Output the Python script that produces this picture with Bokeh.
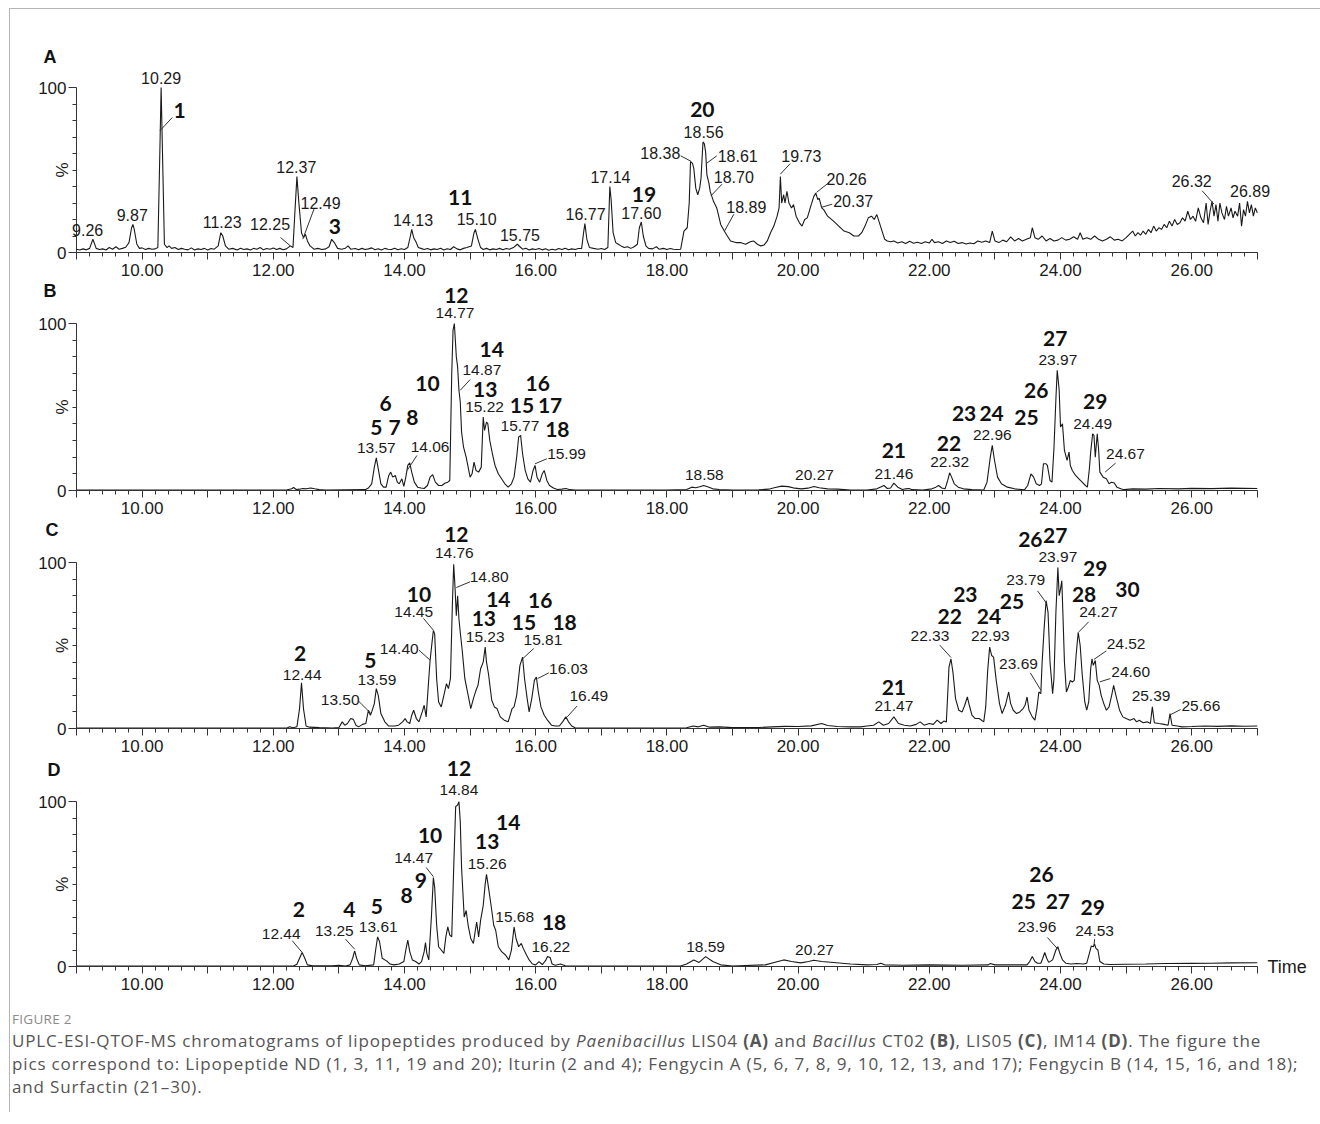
from bokeh.plotting import figure
from bokeh.models import ColumnDataSource, LabelSet, Label, FixedTicker, Range1d, Div
from bokeh.layouts import column
from bokeh.core.properties import value
from bokeh.embed import file_html
from bokeh.resources import INLINE

# ---------------- data: (retention time [min], relative intensity [%]) ----------------
trace_A = [(9.00,2),(9.05,1.5),(9.10,2.2),(9.15,1.6),(9.20,2.5),(9.25,8),(9.30,2.5),(9.35,1.8),(9.40,2.2),(9.45,1.5),
(9.50,3),(9.55,2),(9.60,3.5),(9.65,2),(9.70,2.5),(9.75,3.2),(9.80,6),(9.84,15),(9.86,17),(9.88,14),(9.92,5),(9.96,2.5),
(10.00,2.8),(10.05,1.8),(10.10,2.5),(10.15,2),(10.20,2.2),(10.24,3),(10.27,60),(10.29,100),(10.31,62),(10.34,5),(10.38,3),
(10.41,4),(10.45,2.5),(10.50,3),(10.55,1.8),(10.60,2.5),(10.65,2),(10.70,1.6),(10.75,2.8),(10.80,1.5),(10.85,2.2),(10.90,1.8),
(10.95,2.5),(11.00,1.5),(11.05,2.4),(11.10,2),(11.16,4),(11.20,12),(11.23,10),(11.27,4),(11.32,2),(11.38,2.5),(11.45,1.5),
(11.50,2.6),(11.55,1.8),(11.60,2.2),(11.65,1.5),(11.70,2.5),(11.75,2),(11.80,3),(11.85,1.6),(11.90,2.4),(11.95,2),(12.00,2.7),
(12.05,1.8),(12.10,2.5),(12.15,1.7),(12.20,2.2),(12.26,4),(12.30,3),(12.33,25),(12.36,46),(12.39,30),(12.43,12),(12.46,9),
(12.49,11),(12.52,7),(12.56,4),(12.62,2),(12.68,2.5),(12.74,1.8),(12.80,2.2),(12.85,3.5),(12.89,8),(12.93,6),(12.98,2.5),
(13.04,2),(13.10,2.6),(13.14,4),(13.18,2),(13.25,2.4),(13.30,1.6),(13.35,2.5),(13.40,1.8),(13.45,2.2),(13.50,2.8),(13.55,1.7),
(13.60,2.3),(13.65,1.5),(13.70,2.5),(13.75,2),(13.80,1.8),(13.85,2.6),(13.90,1.7),(13.95,2.3),(14.00,1.8),(14.05,3),(14.09,10),
(14.11,14),(14.14,9),(14.18,6),(14.21,3),(14.25,2.5),(14.30,1.8),(14.35,2.4),(14.40,1.6),(14.45,2.2),(14.50,1.8),(14.55,2.6),
(14.60,1.5),(14.65,2.3),(14.70,1.8),(14.75,3.5),(14.80,2.2),(14.85,1.6),(14.90,2.5),(14.95,3),(15.02,4),(15.06,12),(15.08,14),
(15.12,8),(15.16,3),(15.20,1.8),(15.25,2.5),(15.30,1.6),(15.35,2.2),(15.40,1.8),(15.45,2.5),(15.50,1.7),(15.55,2.4),(15.60,2),
(15.66,3),(15.72,5),(15.76,3.5),(15.80,2),(15.85,2.6),(15.90,1.5),(15.95,2.2),(16.00,1.8),(16.05,2.4),(16.10,1.6),(16.15,2.3),
(16.20,1.4),(16.25,2),(16.30,1.5),(16.35,2.4),(16.40,1.8),(16.45,2.6),(16.50,1.7),(16.55,2.2),(16.60,1.8),(16.65,2.4),(16.70,2.5),
(16.73,12),(16.75,17.5),(16.78,8),(16.82,3),(16.88,2.5),(16.95,2),(17.00,2.4),(17.05,1.8),(17.10,3),(17.13,40),(17.15,32),
(17.18,12),(17.22,6),(17.26,5),(17.30,4),(17.35,3),(17.40,3.5),(17.45,2.5),(17.50,3.5),(17.55,5),(17.58,15),(17.61,18.5),
(17.64,10),(17.68,4),(17.72,2.5),(17.78,2.2),(17.84,3.5),(17.88,2),(17.95,2.5),(18.00,1.8),(18.05,2.4),(18.10,2),(18.15,1.8),
(18.21,2),(18.26,13),(18.31,15),(18.34,30),(18.36,55),(18.39,54),(18.41,51),(18.44,39),(18.47,35),(18.50,39),(18.52,45),
(18.55,67),(18.57,66),(18.59,61),(18.61,47),(18.64,42),(18.66,37),(18.71,31),(18.76,27),(18.82,17),(18.89,12),(18.97,7),
(19.05,6),(19.12,6),(19.20,5),(19.27,6.5),(19.32,7),(19.38,5),(19.43,4),(19.48,4.5),(19.53,7),(19.58,12),(19.63,16),(19.68,22),
(19.71,27),(19.73,46),(19.75,30),(19.78,35),(19.80,30),(19.83,37),(19.86,30),(19.90,27),(19.93,29),(19.97,22),(20.02,18),
(20.06,16),(20.10,20),(20.14,21),(20.20,29),(20.24,34),(20.27,36),(20.30,32),(20.32,33),(20.36,27),(20.39,26),(20.45,22),
(20.54,19),(20.62,16),(20.70,13),(20.78,12),(20.85,10),(20.92,10),(20.97,12),(21.02,16),(21.07,21),(21.12,22),(21.16,20),
(21.20,23),(21.24,18),(21.28,13),(21.32,8),(21.36,7),(21.41,6.5),(21.46,7),(21.52,5.8),(21.58,6.5),(21.64,5.5),(21.70,6.8),
(21.76,5.6),(21.82,6.2),(21.88,5.4),(21.94,6.5),(22.00,5.7),(22.04,8),(22.08,6),(22.14,6.5),(22.20,5.5),(22.26,7),(22.32,6),
(22.38,6.8),(22.44,5.4),(22.50,6),(22.56,5.2),(22.62,5.8),(22.68,5.3),(22.74,7),(22.80,6.2),(22.86,7),(22.92,6),(22.96,13),
(23.00,7),(23.06,6),(23.12,7.5),(23.18,6.5),(23.24,9.5),(23.30,7),(23.36,8.5),(23.42,7),(23.48,8),(23.54,9),(23.57,15),(23.61,9),
(23.66,8),(23.72,10),(23.78,7),(23.84,8.5),(23.90,7),(23.96,7.5),(24.02,9),(24.08,7.5),(24.14,8),(24.20,9.5),(24.26,8),(24.30,12),
(24.34,8),(24.40,9),(24.46,8),(24.52,10),(24.58,8),(24.64,7),(24.70,8),(24.76,9.5),(24.82,7.5),(24.88,8),(24.94,7),(25.00,9),
(25.05,11),(25.10,13),(25.14,10),(25.18,12),(25.22,10.5),(25.26,13),(25.30,11),(25.34,14),(25.38,12),(25.42,16),(25.46,13),
(25.50,15),(25.54,14),(25.58,17),(25.62,15),(25.66,19),(25.70,16),(25.74,20),(25.78,17),(25.82,18),(25.86,21),(25.90,19),
(25.94,25),(25.98,20),(26.02,22),(26.06,19),(26.10,27),(26.14,21),(26.18,18),(26.22,30),(26.25,17),(26.28,25),(26.31,31),
(26.34,22),(26.37,29),(26.40,19),(26.43,30),(26.46,24),(26.50,20),(26.53,28),(26.56,22),(26.60,27),(26.63,21),(26.66,25),
(26.70,22),(26.73,30),(26.76,16),(26.79,26),(26.82,22),(26.85,31),(26.88,24),(26.91,29),(26.94,22),(26.97,27),(27.00,24)]

trace_B = [(9.00,0.3),(12.20,0.3),(12.28,1),(12.31,1.8),(12.35,0.6),(12.40,0.8),(12.45,1.2),(12.50,1.0),(12.57,1.5),
(12.63,1.0),(12.70,0.5),(12.80,0.3),(13.40,0.5),(13.45,1.5),(13.50,4),(13.54,14),(13.57,19.5),(13.60,13),(13.64,4),(13.68,2),
(13.72,2),(13.76,9),(13.79,11),(13.82,8),(13.86,9),(13.89,5),(13.92,4),(13.96,7),(13.99,2.5),(14.02,8),(14.05,15),(14.08,16.5),
(14.11,11),(14.15,5),(14.20,2),(14.25,1.5),(14.30,1.2),(14.35,3),(14.39,8),(14.43,9.5),(14.47,5),(14.52,3),(14.57,3),(14.62,4.5),
(14.66,5),(14.69,6),(14.72,70),(14.74,96),(14.76,100),(14.79,80),(14.81,74),(14.83,60),(14.85,53),(14.87,35),(14.90,26),
(14.94,20),(14.97,14),(15.00,8),(15.03,10),(15.06,17),(15.09,12),(15.13,11),(15.17,14),(15.20,44),(15.22,36),(15.25,41),
(15.27,40),(15.30,30),(15.34,22),(15.38,15),(15.43,10),(15.48,7),(15.53,4),(15.58,2),(15.63,4),(15.67,8),(15.71,20),(15.74,32),
(15.77,33),(15.80,22),(15.84,12),(15.88,7),(15.92,5),(15.96,12),(15.99,15),(16.02,8),(16.06,5),(16.10,10),(16.13,12),(16.17,6),
(16.21,3),(16.27,1.5),(16.33,0.6),(16.40,0.8),(16.46,1.2),(16.52,0.5),(16.60,0.3),(18.00,0.3),(18.30,0.6),(18.38,2),(18.44,1.6),
(18.50,2.2),(18.56,3),(18.62,2.2),(18.70,1),(18.80,0.6),(19.00,0.3),(19.40,0.4),(19.55,0.8),(19.65,1.8),(19.75,2.6),(19.85,2.3),
(19.95,1.4),(20.05,1),(20.15,1.4),(20.24,2.4),(20.32,1.6),(20.45,1),(20.60,0.8),(20.80,0.3),(21.05,0.3),(21.20,1),(21.31,3),
(21.36,1.2),(21.41,1.5),(21.46,4.4),(21.52,2),(21.59,0.6),(21.64,1),(21.69,1.2),(21.74,0.5),(21.90,0.3),(22.04,1),(22.10,2),
(22.14,3),(22.19,1.5),(22.24,1),(22.28,6),(22.31,10.6),(22.34,8),(22.38,4),(22.44,2),(22.52,1),(22.65,0.5),(22.83,0.3),
(22.88,5),(22.93,20),(22.96,27),(22.99,19),(23.04,8),(23.10,4),(23.19,2),(23.30,1),(23.45,0.4),(23.50,3),(23.55,10),(23.59,8),
(23.63,4),(23.68,3),(23.71,4),(23.74,16),(23.78,16),(23.80,15),(23.84,6),(23.87,5),(23.90,25),(23.93,55),(23.95,72),(23.98,60),
(24.00,38),(24.03,40),(24.06,24),(24.10,18),(24.13,23),(24.15,15),(24.18,12),(24.23,9),(24.28,7),(24.33,5),(24.38,3),(24.41,2),
(24.44,13),(24.46,23),(24.49,34),(24.51,33),(24.53,20),(24.56,34),(24.58,25),(24.60,11),(24.65,8),(24.70,7),(24.74,4),(24.78,5),
(24.82,4.5),(24.86,2),(24.92,1),(24.97,0.5),(25.10,1),(25.30,0.8),(25.50,1.2),(25.80,1),(26.00,1.3),(26.30,1.1),(26.60,1.4),(27.00,1.2)]

trace_C = [(9.00,0.2),(12.20,0.2),(12.25,1.0),(12.30,0.4),(12.36,1),(12.40,12),(12.43,27.5),(12.46,12),(12.50,1.5),(12.55,0.8),
(12.70,0.5),(12.90,0.3),(13.00,0.5),(13.05,4),(13.09,2),(13.13,3),(13.18,6),(13.22,5.5),(13.26,2),(13.30,1),(13.36,2.5),(13.41,3),
(13.45,11),(13.48,8),(13.50,10),(13.54,15),(13.57,24),(13.60,20),(13.64,9),(13.70,4),(13.76,1.5),(13.85,1.5),(13.91,2),(13.97,4),
(14.01,6),(14.04,4),(14.08,3),(14.11,8),(14.14,11),(14.18,6),(14.22,4),(14.27,10),(14.30,14),(14.33,7),(14.37,30),(14.39,41),
(14.42,52),(14.44,59),(14.46,57),(14.49,30),(14.52,16),(14.56,13),(14.60,20),(14.64,27),(14.67,24),(14.70,30),(14.73,75),
(14.75,99),(14.77,85),(14.79,68),(14.81,80),(14.83,66),(14.85,58),(14.88,47),(14.92,30),(14.96,22),(15.01,12),(15.05,18),
(15.09,23),(15.12,26),(15.16,36),(15.20,40),(15.23,49),(15.25,40),(15.28,33),(15.33,17),(15.37,13),(15.41,12),(15.46,7),
(15.52,5),(15.58,4),(15.64,12),(15.67,13),(15.71,20),(15.76,38),(15.80,43),(15.83,30),(15.87,18),(15.90,10),(15.94,18),
(15.98,29),(16.01,31),(16.04,22),(16.08,13),(16.13,8),(16.18,5),(16.24,2),(16.30,1.5),(16.36,1.5),(16.41,4),(16.46,7),
(16.50,4),(16.55,1.5),(16.60,0.4),(18.00,0.3),(18.30,0.4),(18.40,1.5),(18.48,1),(18.56,2),(18.65,0.8),(18.80,1),(19.00,0.5),
(19.40,0.6),(19.60,1),(19.80,1.3),(20.00,1.2),(20.20,1.6),(20.36,3),(20.45,1.8),(20.60,1.2),(20.80,1),(20.95,1),(21.05,1.5),
(21.15,2),(21.23,4),(21.30,2),(21.38,3),(21.46,7),(21.53,3),(21.62,2),(21.71,1.5),(21.80,2.5),(21.86,4),(21.92,2),(22.00,3),
(22.06,2.5),(22.12,5),(22.18,3),(22.22,4.5),(22.26,4),(22.28,20),(22.30,37),(22.33,42),(22.36,34),(22.40,18),(22.45,11),
(22.50,10),(22.54,14),(22.58,19),(22.61,14),(22.65,8),(22.70,6),(22.76,6),(22.83,4),(22.86,13),(22.89,35),(22.92,49),(22.95,44),
(22.98,43),(23.02,29),(23.07,15),(23.11,9),(23.16,14),(23.21,22),(23.24,15),(23.28,11),(23.33,9),(23.38,10),(23.43,12),
(23.46,14),(23.49,19),(23.52,11),(23.57,7),(23.61,5),(23.64,12),(23.67,22),(23.70,21),(23.72,40),(23.75,60),(23.78,77),
(23.81,70),(23.84,40),(23.88,21),(23.90,30),(23.93,70),(23.96,97),(23.98,80),(24.00,84),(24.02,89),(24.04,65),(24.06,40),
(24.09,22),(24.12,25),(24.15,29),(24.18,28),(24.21,29),(24.24,45),(24.27,58),(24.30,50),(24.33,33),(24.37,16),(24.40,11),
(24.43,16),(24.46,36),(24.48,42),(24.50,38),(24.53,41),(24.56,29),(24.59,26),(24.62,20),(24.66,15),(24.70,11),(24.74,13),
(24.78,20),(24.81,26),(24.85,19),(24.90,11),(24.95,7),(25.00,6),(25.06,5),(25.12,6),(25.16,4),(25.20,5),(25.26,3.5),(25.32,4),
(25.37,3),(25.40,13),(25.43,3.5),(25.50,3),(25.58,2.5),(25.64,2),(25.67,9),(25.70,2),(25.78,1.5),(25.85,1),(26.00,1.2),
(26.20,1.5),(26.40,1.3),(26.60,1.6),(26.80,1.4),(27.00,1.5)]

trace_D = [(9.00,0.2),(12.30,0.2),(12.36,1.4),(12.40,5),(12.44,8.5),(12.48,5),(12.52,1),(12.60,0.4),(12.90,0.4),(13.00,0.8),
(13.10,0.3),(13.17,1),(13.21,5),(13.24,9.5),(13.27,5),(13.31,1),(13.40,0.5),(13.53,1),(13.56,10),(13.59,18),(13.62,15),
(13.66,5),(13.70,4),(13.74,3),(13.78,1.5),(13.84,1),(13.92,1.5),(13.99,3),(14.02,10),(14.05,16),(14.08,9),(14.12,4),(14.17,3),
(14.22,1.5),(14.26,3),(14.30,9),(14.32,14.5),(14.34,8),(14.37,4),(14.41,30),(14.44,54),(14.46,48),(14.49,25),(14.52,12),
(14.56,10),(14.60,8),(14.63,18),(14.66,24),(14.69,19),(14.72,18),(14.75,60),(14.78,97),(14.81,98),(14.83,100),(14.85,88),
(14.87,60),(14.89,45),(14.91,30),(14.94,34),(14.97,25),(15.01,17),(15.05,14),(15.08,22),(15.10,27),(15.13,18),(15.16,28),
(15.20,37),(15.23,50),(15.25,56),(15.28,48),(15.32,37),(15.36,25),(15.39,22),(15.43,12),(15.48,9),(15.54,7),(15.59,4),
(15.63,10),(15.67,24),(15.70,17),(15.74,12),(15.78,14),(15.81,11),(15.86,7),(15.90,4),(15.95,1.5),(16.00,1),(16.05,3),
(16.10,1.2),(16.15,3.5),(16.18,6),(16.22,5.5),(16.25,1.5),(16.30,0.8),(16.38,1.5),(16.45,0.4),(16.60,0.2),(18.21,0.3),
(18.30,1.5),(18.41,4),(18.49,2.5),(18.59,6),(18.70,3),(18.82,1),(19.00,0.3),(19.50,1),(19.65,2.6),(19.78,4),(19.90,3),
(20.04,2.2),(20.16,3),(20.24,3.8),(20.36,3),(20.54,2.4),(20.80,1.5),(21.05,1),(21.20,1.2),(21.26,2),(21.32,1),(21.60,0.8),
(22.00,1),(22.50,0.8),(22.90,1),(22.93,1.8),(23.00,1),(23.49,1),(23.53,3),(23.57,6),(23.61,3),(23.65,2),(23.70,2),(23.73,5),
(23.76,8.5),(23.79,5),(23.82,2.5),(23.88,4),(23.93,10),(23.96,12),(23.99,8),(24.03,4),(24.08,2),(24.16,1.5),(24.25,1.8),
(24.35,1.5),(24.40,2),(24.44,8),(24.47,12.5),(24.50,12),(24.52,13.6),(24.54,11),(24.57,10),(24.60,3),(24.66,1.5),(24.75,1.2),
(25.00,1.4),(25.30,1.5),(25.60,1.8),(26.00,1.9),(26.30,2),(26.60,2.2),(27.00,2.3)]

# retention-time labels (text, t, %)
rt_A = [("10.29",10.29,105.7),("9.26",9.17,13.5),("9.87",9.85,22.8),("11.23",11.22,18.2),("12.25",11.95,17.2),
("12.37",12.35,51.9),("12.49",12.72,29.9),("14.13",14.13,19.8),("15.10",15.10,20.2),("15.75",15.76,10.7),("16.77",16.76,23.6),
("17.14",17.14,45.5),("17.60",17.61,23.8),("18.38",17.90,60.6),("18.56",18.56,73.3),("18.61",19.08,58.6),("18.70",19.02,45.9),
("18.89",19.21,27.3),("19.73",20.05,58.6),("20.26",20.74,44.4),("20.37",20.84,31.3),("26.32",26.00,43.4),("26.89",26.89,37.4)]
rt_B = [("13.57",13.57,25.4),("14.06",14.39,26.0),("14.77",14.77,106),("14.87",15.18,72),("15.22",15.22,50),("15.77",15.76,38.4),
("15.99",16.47,22),("18.58",18.57,9),("20.27",20.25,9),("21.46",21.46,10),("22.32",22.31,17),("22.96",22.96,33),
("23.97",23.96,78),("24.49",24.49,40),("24.67",24.99,22)]
rt_C = [("12.44",12.44,32.5),("13.50",13.02,17),("13.59",13.58,29),("14.40",13.92,48),("14.45",14.14,70),("14.76",14.76,106),
("14.80",15.29,91),("15.23",15.23,55),("15.81",16.11,53.6),("16.03",16.50,36),("16.49",16.81,19.5),("21.47",21.46,13.5),
("22.33",22.01,55.6),("22.93",22.93,55.6),("23.69",23.36,39),("23.79",23.47,89.4),("23.97",23.96,103.4),("24.27",24.58,70),
("24.52",25.00,51),("24.60",25.07,34),("25.39",25.38,19.5),("25.66",26.14,13.5)]
rt_D = [("12.44",12.12,20),("13.25",12.93,21.7),("13.61",13.60,23.7),("14.47",14.14,65.8),("14.84",14.83,107),
("15.26",15.26,62),("15.68",15.68,29.8),("16.22",16.23,12),("18.59",18.59,12),("20.27",20.25,10),("23.96",23.64,23.7),
("24.53",24.52,21.7)]

# compound numbers (text, t, %)
cmp_A = [("1",10.57,85.9),("3",12.94,15.6),("11",14.85,33.3),("19",17.65,34.9),("20",18.54,86.9)]
cmp_B = [("5",13.57,38),("6",13.71,52),("7",13.85,37.6),("8",14.12,44),("10",14.35,64),("12",14.79,117),("14",15.33,84.4),
("13",15.23,60.4),("16",16.03,64),("15",15.79,51),("17",16.22,51),("18",16.33,36.6),("21",21.46,24),("22",22.30,28.4),
("23",22.53,46),("24",22.95,46),("25",23.48,44),("26",23.63,60),("27",23.92,91),("29",24.53,53.4)]
cmp_C = [("2",12.41,45.2),("5",13.48,41),("10",14.22,81),("12",14.79,116.8),("14",15.43,78),("13",15.21,66),("16",16.07,77),
("15",15.82,64),("18",16.44,64),("21",21.46,24.7),("22",22.31,67.7),("23",22.55,80.7),("24",22.91,67.7),("25",23.26,76.3),
("26",23.54,113.8),("27",23.92,116.5),("29",24.53,96.4),("28",24.36,80.7),("30",25.02,84)]
cmp_D = [("2",12.39,34.8),("4",13.16,34.8),("5",13.58,36.4),("8",14.03,43),("9",14.25,52),("10",14.39,79.4),("12",14.83,120),
("13",15.26,76),("14",15.58,87.4),("18",16.28,26.7),("26",23.71,56),("25",23.44,39.3),("27",23.96,39.3),("29",24.49,35.8)]

# leader lines (t0, %0, t1, %1)
lead_A = [(10.27,73.7,10.46,81.8),(12.11,9.1,12.26,4.0),(12.62,26.3,12.45,8.1),(18.21,58.6,18.37,55.2),(18.76,58.6,18.60,53.9),
(18.84,41.4,18.67,34.3),(19.02,23.2,18.88,13.1),(19.88,53.9,19.73,47.5),(20.47,42.4,20.28,36.4),(20.52,29.3,20.35,27.3),
(26.16,37.4,26.34,29.3)]
lead_B = [(14.19,21,14.04,12),(15.00,66.4,14.85,60),(16.17,19,15.99,16),(24.84,16.4,24.68,11)]
lead_C = [(13.30,16.5,13.49,9),(14.22,47.2,14.39,41.2),(14.29,66.3,14.44,59.2),(15.00,88.4,14.79,84.9),(15.97,48.2,15.79,41.6),
(16.20,33.5,16.03,30.1),(16.63,13.5,16.48,7),(22.16,50.2,22.33,42.8),(23.54,33.5,23.70,23.1),(23.65,82.9,23.79,75.3),
(24.43,64.3,24.28,58.2),(24.70,46.8,24.51,41.6),(24.76,30.1,24.60,28.1),(25.83,11.4,25.66,8)]
lead_D = [(12.29,15.6,12.44,8.5),(13.10,16.6,13.24,10.5),(14.33,60.1,14.44,54.5),(23.80,17.6,23.96,10.5),(24.52,16.6,24.51,12.5)]

x_ticks = list(range(9, 28))
y_minor = [10, 20, 30, 40, 50, 60, 70, 80, 90]

INK = "#1a1a1a"
ARIAL = "Liberation Sans"
PX_PER_MIN = 65.6
BORDER_L, BORDER_R = 23, 2
X0 = 9 - (76 - 10 - BORDER_L) / PX_PER_MIN
X1 = X0 + (1310 - BORDER_L - BORDER_R) / PX_PER_MIN


def panel(letter, trace, rts, cmps, leads, height, zero_px, px_per_pct, letter_pos, rt_size, time_label=False):
    y0 = -zero_px / px_per_pct
    y1 = (height - zero_px) / px_per_pct
    p = figure(width=1310, height=height, x_range=Range1d(X0, X1), y_range=Range1d(y0, y1),
               output_backend="svg", toolbar_location=None,
               min_border_left=BORDER_L, min_border_right=BORDER_R, min_border_top=0, min_border_bottom=0)
    p.grid.visible = False
    p.outline_line_color = None
    p.background_fill_color = "white"
    p.border_fill_color = "white"

    xa = p.xaxis[0]
    xa.ticker = FixedTicker(ticks=x_ticks, minor_ticks=[9 + 0.2 * i for i in range(91)])
    xa.major_label_overrides = {t: (f"{t}.00" if t % 2 == 0 else "") for t in x_ticks}
    xa.bounds = (9, 27)
    xa.fixed_location = 0
    ya = p.yaxis[0]
    ya.ticker = FixedTicker(ticks=[0, 100], minor_ticks=y_minor)
    ya.major_label_overrides = {0: "0", 100: "100"}
    ya.bounds = (0, 100)
    ya.fixed_location = 9
    for ax, tout, sto in ((xa, 7, 4), (ya, 8, 2)):
        ax.axis_line_color = "#333333"
        ax.axis_line_width = 1
        ax.major_tick_line_color = "#333333"
        ax.minor_tick_line_color = "#333333"
        ax.major_tick_out = tout
        ax.major_tick_in = 0
        ax.minor_tick_out = 4
        ax.minor_tick_in = 0
        ax.major_label_standoff = sto
        ax.major_label_text_font = ARIAL
        ax.major_label_text_font_size = "17px"
        ax.major_label_text_color = INK

    ts = [a for a, b in trace]
    ys = [b for a, b in trace]
    p.line(ts, ys, line_color=INK, line_width=1.1)

    lsrc = ColumnDataSource(dict(x0=[l[0] for l in leads], y0=[l[1] for l in leads],
                                 x1=[l[2] for l in leads], y1=[l[3] for l in leads]))
    p.segment(x0="x0", y0="y0", x1="x1", y1="y1", source=lsrc, line_color="#333333", line_width=1)

    rsrc = ColumnDataSource(dict(x=[r[1] for r in rts], y=[r[2] for r in rts], text=[r[0] for r in rts]))
    p.add_layout(LabelSet(x="x", y="y", text="text", source=rsrc, text_align="center", text_baseline="middle",
                          text_font=value(ARIAL), text_font_size=value(rt_size), text_color=INK))
    csrc = ColumnDataSource(dict(x=[c[1] for c in cmps], y=[c[2] for c in cmps], text=[c[0] for c in cmps]))
    p.add_layout(LabelSet(x="x", y="y", text="text", source=csrc, text_align="center", text_baseline="middle",
                          text_font=value("Lato"), text_font_style="bold", text_font_size=value("21px"),
                          text_color="#111111"))

    p.add_layout(Label(x=letter_pos[0], y=letter_pos[1], text=letter, text_font=ARIAL, text_font_style="bold",
                       text_font_size="18px", text_color="#111111", text_align="left", text_baseline="middle"))
    p.add_layout(Label(x=8.782, y=50, text="%", angle=1.5708, text_font=ARIAL, text_font_size="17px",
                       text_color=INK, text_align="center", text_baseline="middle"))
    if time_label:
        p.add_layout(Label(x=27.155, y=0, text="Time", text_font=ARIAL, text_font_size="18px",
                           text_color=INK, text_align="left", text_baseline="middle"))
    return p


pA = panel("A", trace_A, rt_A, cmp_A, lead_A, 273, 30, 1.65, (8.497, 118.4), "16px")
pB = panel("B", trace_B, rt_B, cmp_B, lead_B, 238, 30, 1.67, (8.497, 119.2), "15.5px")
pC = panel("C", trace_C, rt_C, cmp_C, lead_C, 236, 28, 1.66, (8.527, 119.6), "15.5px")
pD = panel("D", trace_D, rt_D, cmp_D, lead_D, 240, 30, 1.648, (8.558, 119.4), "15.5px", time_label=True)

caption_html = """
<div style="font-family:'Open Sans',sans-serif;color:#555555;white-space:nowrap;margin-left:-3px;">
<div style="font-size:13.5px;color:#8a8a8a;letter-spacing:0.3px;margin-top:10px;line-height:16px;">FIGURE 2</div>
<div style="font-size:17px;letter-spacing:0.85px;line-height:23px;margin-top:2px;">UPLC-ESI-QTOF-MS chromatograms of lipopeptides produced by <i>Paenibacillus</i> LIS04 <b>(A)</b> and <i>Bacillus</i> CT02 <b>(B)</b>, LIS05 <b>(C)</b>, IM14 <b>(D)</b>. The figure the<br>pics correspond to: Lipopeptide ND (1, 3, 11, 19 and 20); Iturin (2 and 4); Fengycin A (5, 6, 7, 8, 9, 10, 12, 13, and 17); Fengycin B (14, 15, 16, and 18);<br>and Surfactin (21&ndash;30).</div>
</div>
"""
cap = Div(text=caption_html, width=1310, height=106)

root = column(pA, pB, pC, pD, cap, spacing=0,
              styles={"margin-left": "9px", "margin-top": "8px",
                      "border-left": "1px solid #b5b5b5", "border-top": "1px solid #b5b5b5"})

open("out.html", "w").write(file_html(root, INLINE))
